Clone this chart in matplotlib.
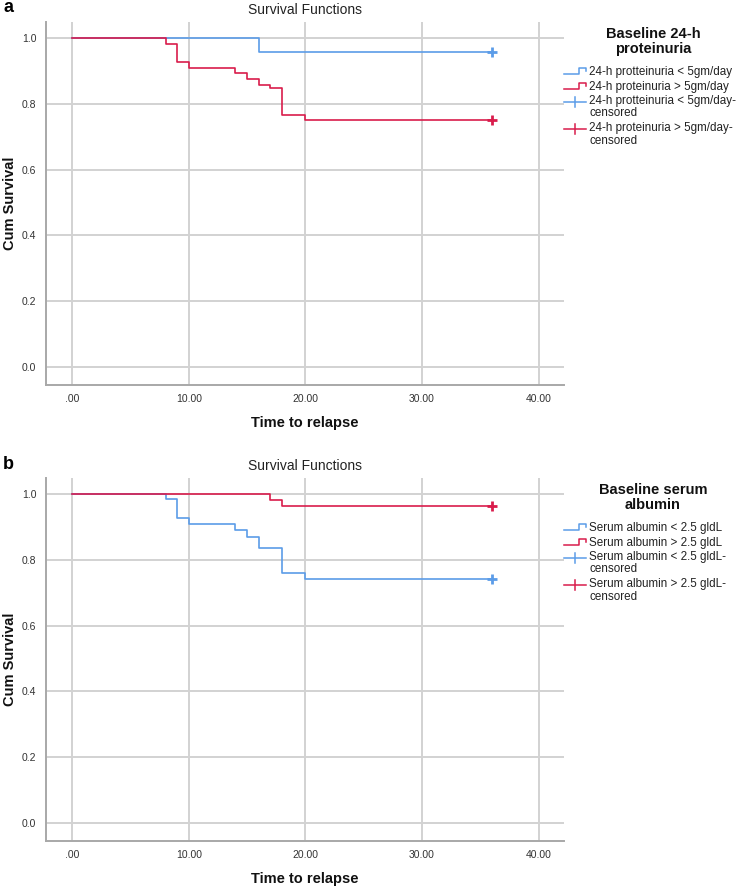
import matplotlib
matplotlib.use("Agg")
import matplotlib.pyplot as plt
from matplotlib.lines import Line2D

plt.rcParams['font.family'] = ['Liberation Sans', 'DejaVu Sans']

# ---------------- data ----------------
end_time = 36
# panel a: baseline 24-h proteinuria
prot_low_times = [0, 16]
prot_low_surv = [1.0, 0.958]
prot_high_times = [0, 8, 9, 10, 14, 15, 16, 17, 18, 20]
prot_high_surv = [1.0, 0.982, 0.927, 0.91, 0.893, 0.875, 0.857, 0.848, 0.767, 0.75]
# panel b: baseline serum albumin
alb_low_times = [0, 8, 9, 10, 14, 15, 16, 18, 20]
alb_low_surv = [1.0, 0.984, 0.927, 0.909, 0.89, 0.871, 0.835, 0.76, 0.742]
alb_high_times = [0, 17, 18]
alb_high_surv = [1.0, 0.982, 0.963]

x_ticks = [0, 10, 20, 30, 40]
x_tick_labels = ['.00', '10.00', '20.00', '30.00', '40.00']
y_ticks = [0.0, 0.2, 0.4, 0.6, 0.8, 1.0]
y_tick_labels = ['0.0', '0.2', '0.4', '0.6', '0.8', '1.0']

legend_a_title = 'Baseline 24-h\nproteinuria'
legend_a_labels = ['24-h protteinuria < 5gm/day', '24-h proteinuria > 5gm/day',
                   '24-h protteinuria < 5gm/day-\ncensored', '24-h proteinuria > 5gm/day-\ncensored']
legend_b_title = 'Baseline serum\nalbumin'
legend_b_labels = ['Serum albumin < 2.5 gldL', 'Serum albumin > 2.5 gldL',
                   'Serum albumin < 2.5 gldL-\ncensored', 'Serum albumin > 2.5 gldL-\ncensored']

BLUE = '#5b9ce8'
RED = '#d91c4c'
GRID = '#d2d2d2'
SPINE = '#a8a8a8'

W, H = 738, 888
fig = plt.figure(figsize=(W / 100, H / 100), dpi=100)


def fx(px):
    return px / W


def fy(py):
    return 1 - py / H


def make_panel(top_px, bottom_px, low_t, low_s, high_t, high_s, letter, leg_title, leg_labels):
    left_px, right_px = 46, 564.3
    ax = fig.add_axes([fx(left_px), fy(bottom_px), fx(right_px) - fx(left_px), fy(top_px) - fy(bottom_px)])
    ax.set_xlim(-2.25, 42.2)
    ax.set_ylim(-0.056, 1.049)
    ax.set_xticks(x_ticks)
    ax.set_xticklabels(x_tick_labels)
    ax.set_yticks(y_ticks)
    ax.set_yticklabels(y_tick_labels)
    ax.tick_params(length=0, labelsize=7.5, labelcolor='#333333')
    ax.tick_params(axis='x', pad=6)
    ax.tick_params(axis='y', pad=7)
    ax.grid(True, color=GRID, lw=1.4)
    ax.set_axisbelow(True)
    for s in ['top', 'right']:
        ax.spines[s].set_visible(False)
    for s in ['left', 'bottom']:
        ax.spines[s].set_color(SPINE)
        ax.spines[s].set_linewidth(1.4)

    for t, s, c in [(low_t, low_s, BLUE), (high_t, high_s, RED)]:
        ax.step(list(t) + [end_time], list(s) + [s[-1]], where='post', color=c, lw=1.2)
    for t, s, c in [(low_t, low_s, BLUE), (high_t, high_s, RED)]:
        ax.plot([end_time], [s[-1]], marker='+', color=c, ms=7, mew=2, ls='none')

    center = (left_px + right_px) / 2
    fig.text(fx(center), fy(top_px - 12), 'Survival Functions', ha='center', va='center',
             fontsize=10, color='#222222')
    fig.text(fx(center), fy(bottom_px + 38), 'Time to relapse', ha='center', va='center',
             fontsize=10.5, fontweight='bold', color='#111111')
    fig.text(fx(10), fy((top_px + bottom_px) / 2), 'Cum Survival', ha='center', va='center',
             rotation=90, fontsize=10.5, fontweight='bold', color='#111111')
    fig.text(fx(3), fy(top_px - 14), letter, ha='left', va='center', fontsize=13,
             fontweight='bold', color='#000000')

    # legend (manual, SPSS style)
    fig.text(fx(653), fy(top_px + 19.5), leg_title, ha='center', va='center', fontsize=10.5,
             fontweight='bold', linespacing=1.05, color='#111111')
    ys = [top_px + 50, top_px + 65, top_px + 79, top_px + 106]
    cols = [BLUE, RED, BLUE, RED]
    for i, (yy, lab, c) in enumerate(zip(ys, leg_labels, cols)):
        fig.text(fx(589), fy(yy), lab.split('\n')[0], ha='left', va='center', fontsize=8.4,
                 color='#222222')
        if '\n' in lab:
            fig.text(fx(589), fy(yy + 12.5), lab.split('\n')[1], ha='left', va='center',
                     fontsize=8.4, color='#222222')
        if i < 2:
            xs = [fx(564), fx(579), fx(579), fx(586), fx(586)]
            yv = [fy(yy + 2), fy(yy + 2), fy(yy - 4), fy(yy - 4), fy(yy - 1)]
            fig.add_artist(Line2D(xs, yv, color=c, lw=1.1))
        else:
            fig.add_artist(Line2D([fx(564), fx(586)], [fy(yy + 1), fy(yy + 1)], color=c, lw=1.1))
            fig.add_artist(Line2D([fx(575), fx(575)], [fy(yy - 4), fy(yy + 6)], color=c, lw=1.1))
    return ax


make_panel(22, 385.3, prot_low_times, prot_low_surv, prot_high_times, prot_high_surv,
           'a', legend_a_title, legend_a_labels)
make_panel(478, 841.3, alb_low_times, alb_low_surv, alb_high_times, alb_high_surv,
           'b', legend_b_title, legend_b_labels)

fig.savefig('out.png', dpi=100)
